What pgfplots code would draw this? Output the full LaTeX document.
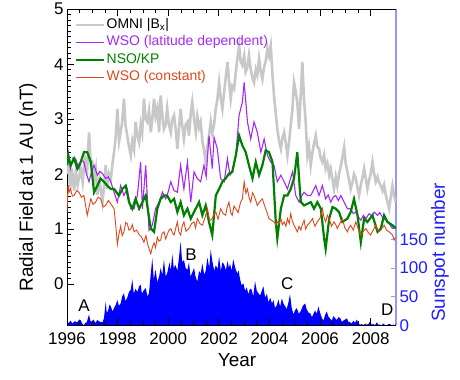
\documentclass[border=0pt]{standalone}
\usepackage{fontspec}
\setmainfont{Liberation Sans}
\usepackage{pgfplots}
\pgfplotsset{compat=1.18}
\definecolor{omni}{RGB}{200,200,200}
\definecolor{wsol}{RGB}{165,40,245}
\definecolor{nso}{RGB}{0,128,0}
\definecolor{wsoc}{RGB}{225,70,25}
\definecolor{ssn}{RGB}{0,0,255}
\definecolor{raxis}{RGB}{150,150,255}
\definecolor{rlab}{RGB}{30,30,255}
\begin{document}
\begin{tikzpicture}
\path (-67bp,-54bp) rectangle (393bp,323bp);
% sunspot axis (right)
\begin{axis}[
 at={(0,0)}, anchor=south west,
 scale only axis, width=329bp, height=316bp,
 xmin=1996, xmax=2009, ymin=0, ymax=552,
 axis x line=none, axis y line*=right,
 y axis line style={raxis, line width=1.2bp, -},
 ytick={0,50,100,150}, minor tick num=0,
 tick align=inside, major tick length=5bp,
 every tick/.style={raxis, line width=0.8bp},
 /pgf/number format/assume math mode=true,
 yticklabel style={text=rlab, font=\fontsize{17}{17}\selectfont},
]
\addplot[fill=ssn, draw=none] table {
1996.00 6
1996.07 4
1996.14 8
1996.22 3
1996.30 7
1996.41 5
1996.48 10
1996.54 9
1996.60 3
1996.67 0
1996.72 4
1996.78 5
1996.87 19
1996.92 8
1996.96 6
1997.05 10
1997.12 4
1997.20 9
1997.30 6
1997.40 5
1997.46 12
1997.53 41
1997.57 22
1997.62 25
1997.68 36
1997.73 33
1997.80 24
1997.86 30
1997.93 36
1997.99 44
1998.05 34
1998.12 38
1998.18 50
1998.25 56
1998.31 42
1998.38 48
1998.45 58
1998.52 62
1998.58 80
1998.64 55
1998.71 64
1998.78 58
1998.85 68
1998.91 71
1998.96 55
1999.02 60
1999.11 65
1999.18 50
1999.24 56
1999.31 90
1999.37 117
1999.43 80
1999.50 97
1999.57 75
1999.64 85
1999.70 100
1999.77 88
1999.83 115
1999.90 85
1999.96 91
2000.05 110
2000.10 95
2000.16 124
2000.22 100
2000.29 105
2000.36 95
2000.43 120
2000.49 146
2000.55 110
2000.62 114
2000.69 100
2000.76 97
2000.82 110
2000.88 85
2000.95 92
2001.02 100
2001.08 85
2001.15 76
2001.22 95
2001.28 90
2001.35 108
2001.42 88
2001.48 95
2001.55 118
2001.62 100
2001.68 132
2001.75 110
2001.82 95
2001.88 105
2001.95 98
2002.01 120
2002.08 95
2002.14 110
2002.21 106
2002.28 96
2002.34 112
2002.40 100
2002.44 108
2002.50 95
2002.57 115
2002.65 100
2002.73 90
2002.78 96
2002.84 80
2002.90 70
2002.97 73
2003.04 60
2003.10 66
2003.17 54
2003.23 64
2003.30 62
2003.36 50
2003.43 77
2003.50 60
2003.56 56
2003.63 52
2003.70 60
2003.76 68
2003.83 48
2003.90 55
2003.96 40
2004.03 48
2004.10 38
2004.16 44
2004.22 30
2004.29 35
2004.36 45
2004.42 32
2004.49 47
2004.55 38
2004.62 33
2004.68 28
2004.75 40
2004.81 54
2004.88 30
2004.95 19
2005.01 26
2005.08 30
2005.16 20
2005.24 25
2005.32 34
2005.41 38
2005.47 28
2005.54 22
2005.61 21
2005.68 14
2005.74 20
2005.80 26
2005.87 20
2005.93 33
2006.00 22
2006.07 13
2006.13 8
2006.20 18
2006.26 24
2006.33 15
2006.39 12
2006.46 8
2006.53 16
2006.60 12
2006.66 9
2006.72 14
2006.79 13
2006.86 6
2006.92 8
2006.99 10
2007.06 12
2007.12 6
2007.19 5
2007.25 3
2007.32 8
2007.38 4
2007.45 10
2007.52 3
2007.58 1
2007.65 2
2007.72 0
2007.78 3
2007.84 1
2007.91 2
2007.98 7
2008.04 1
2008.11 2
2008.17 0
2008.24 5
2008.30 1
2008.37 1
2008.43 0
2008.50 3
2008.57 0
2008.64 0
2008.70 2
2008.77 2
2008.83 0
2008.90 1
2008.96 0
2009.00 2
} \closedcycle;
\end{axis}
% main axis
\begin{axis}[
 at={(0,0)}, anchor=south west,
 scale only axis, width=329bp, height=316bp,
 xmin=1996, xmax=2009, ymin=-0.75, ymax=5,
 axis x line=box, axis y line=left,
 x axis line style={line width=0.8bp, -},
 y axis line style={line width=0.8bp, -},
 xtick={1996,1998,...,2008}, minor x tick num=3,
 ytick={0,1,2,3,4,5}, minor y tick num=9,
 xtick pos=both, ytick pos=left,
 tick align=inside,
 major tick length=7bp, minor tick length=4bp,
 every tick/.style={black, line width=0.7bp},
 /pgf/number format/assume math mode=true,
 /pgf/number format/set thousands separator={},
 tick label style={font=\fontsize{17}{17}\selectfont},
 xticklabel style={yshift=-4bp},
 legend style={at={(rel axis cs:0.024,0.975)}, anchor=north west, draw=none, fill=none,
   font=\fontsize{14}{14}\selectfont, row sep=2.5bp, inner sep=0pt,
   nodes={inner sep=1bp, text height=10bp, text depth=3bp}},
 legend cell align=left,
 legend image code/.code={\draw[#1] (0bp,0bp) -- (28bp,0bp);},
]
\addplot[omni, line width=2.6bp] table {
1996.00 2.00
1996.06 2.30
1996.12 1.70
1996.19 2.10
1996.28 1.70
1996.35 2.05
1996.42 1.80
1996.54 2.10
1996.62 1.85
1996.70 2.30
1996.80 2.10
1996.87 2.76
1996.94 2.20
1997.00 2.22
1997.07 1.90
1997.14 2.10
1997.20 1.62
1997.28 1.90
1997.34 1.70
1997.40 1.49
1997.47 1.80
1997.53 2.16
1997.59 1.73
1997.66 2.00
1997.73 1.90
1997.80 2.20
1997.86 2.40
1997.93 2.70
1997.99 3.19
1998.06 2.60
1998.12 2.76
1998.18 2.95
1998.25 3.37
1998.31 2.90
1998.38 2.70
1998.45 2.50
1998.52 2.34
1998.58 2.60
1998.65 2.45
1998.71 2.95
1998.78 2.70
1998.85 2.58
1998.91 2.90
1998.97 2.75
1999.04 3.37
1999.11 3.00
1999.17 2.95
1999.24 3.15
1999.31 2.76
1999.37 3.00
1999.44 3.37
1999.50 3.05
1999.57 3.20
1999.64 2.76
1999.70 3.43
1999.77 3.05
1999.83 2.82
1999.90 2.90
1999.96 3.19
2000.03 2.90
2000.10 2.76
2000.16 3.00
2000.23 3.07
2000.30 2.80
2000.36 2.46
2000.42 2.80
2000.49 3.19
2000.55 2.90
2000.62 2.64
2000.69 2.90
2000.76 2.95
2000.82 2.70
2000.89 3.10
2000.95 3.31
2001.02 3.00
2001.09 2.76
2001.15 3.05
2001.22 2.85
2001.28 2.95
2001.35 2.60
2001.41 2.45
2001.48 2.22
2001.55 2.50
2001.61 2.70
2001.68 2.95
2001.74 2.75
2001.81 2.89
2001.88 3.20
2001.94 3.35
2002.01 3.67
2002.07 3.40
2002.14 3.19
2002.21 3.50
2002.27 3.75
2002.34 4.04
2002.40 3.70
2002.47 3.37
2002.53 3.60
2002.60 3.55
2002.67 3.85
2002.73 4.10
2002.80 4.34
2002.86 4.05
2002.93 3.98
2003.00 4.15
2003.06 3.86
2003.13 3.95
2003.19 4.16
2003.26 3.90
2003.33 3.75
2003.39 3.67
2003.46 3.90
2003.52 3.80
2003.59 4.10
2003.66 3.85
2003.72 3.73
2003.79 3.95
2003.85 4.05
2003.92 4.28
2003.98 4.15
2004.05 4.34
2004.12 3.80
2004.18 3.43
2004.25 3.10
2004.31 2.82
2004.38 2.60
2004.45 2.46
2004.51 2.65
2004.58 2.76
2004.65 2.55
2004.71 2.34
2004.78 2.60
2004.84 2.89
2004.91 3.20
2004.97 3.67
2005.04 3.50
2005.10 3.31
2005.17 2.82
2005.23 3.40
2005.30 4.04
2005.36 3.40
2005.43 2.95
2005.50 2.34
2005.56 2.50
2005.63 2.16
2005.70 2.40
2005.76 2.55
2005.83 2.70
2005.89 2.50
2005.96 2.46
2006.02 2.30
2006.09 2.22
2006.16 2.35
2006.22 2.10
2006.29 2.20
2006.36 1.98
2006.42 2.10
2006.49 1.90
2006.55 1.73
2006.62 1.95
2006.68 1.79
2006.75 2.00
2006.82 2.15
2006.88 2.30
2006.95 2.49
2007.01 2.20
2007.08 2.04
2007.14 1.90
2007.21 1.73
2007.28 1.85
2007.34 2.00
2007.41 1.92
2007.48 1.75
2007.54 1.61
2007.61 1.80
2007.68 1.95
2007.74 2.10
2007.81 1.90
2007.87 1.73
2007.94 1.90
2008.00 2.00
2008.07 2.22
2008.14 2.00
2008.20 1.86
2008.27 1.95
2008.33 1.85
2008.40 1.79
2008.47 1.70
2008.53 1.80
2008.60 1.61
2008.66 1.50
2008.73 1.37
2008.80 1.60
2008.86 1.79
2008.93 1.60
2008.99 1.49
};
\addlegendentry{OMNI |B\textsubscript{x}|}
\addplot[wsol, line width=1.1bp] table {
1996.00 2.22
1996.05 2.40
1996.14 2.10
1996.24 2.30
1996.34 2.28
1996.47 2.10
1996.57 2.25
1996.67 2.22
1996.77 2.00
1996.87 1.86
1996.97 2.05
1997.07 2.16
1997.20 1.98
1997.30 2.05
1997.40 2.01
1997.53 1.92
1997.63 1.95
1997.73 1.86
1997.86 1.67
1997.99 1.49
1998.12 1.79
1998.25 1.61
1998.38 1.73
1998.52 1.37
1998.65 1.37
1998.78 1.61
1998.91 2.22
1998.98 1.37
1999.11 2.16
1999.24 0.98
1999.37 1.07
1999.50 1.37
1999.64 1.49
1999.77 1.67
1999.90 1.55
1999.96 1.61
2000.10 1.86
2000.23 1.70
2000.36 1.67
2000.49 2.16
2000.62 1.73
2000.76 2.22
2000.89 1.49
2001.02 2.04
2001.15 1.92
2001.28 1.86
2001.41 2.16
2001.50 1.95
2001.61 2.70
2001.74 2.10
2001.81 2.67
2001.94 2.46
2002.07 1.92
2002.21 1.86
2002.34 2.28
2002.44 1.98
2002.53 2.04
2002.67 2.34
2002.80 3.07
2002.93 3.31
2003.00 3.67
2003.13 2.95
2003.26 2.64
2003.39 2.95
2003.52 2.76
2003.66 2.40
2003.79 2.64
2003.92 2.34
2004.05 2.22
2004.18 2.16
2004.31 1.86
2004.45 1.98
2004.58 1.86
2004.71 1.73
2004.91 2.04
2005.04 1.61
2005.17 1.49
2005.27 1.60
2005.37 1.67
2005.50 1.61
2005.63 1.61
2005.73 1.70
2005.83 1.79
2005.96 1.61
2006.09 1.79
2006.22 1.55
2006.32 1.62
2006.42 1.49
2006.52 1.58
2006.62 1.61
2006.72 1.52
2006.82 1.61
2006.95 1.49
2007.08 1.37
2007.21 1.37
2007.31 1.28
2007.41 1.31
2007.51 1.22
2007.61 1.16
2007.71 1.25
2007.81 1.19
2007.94 1.28
2008.04 1.24
2008.14 1.31
2008.27 1.25
2008.36 1.30
2008.46 1.22
2008.56 1.18
2008.66 1.13
2008.76 1.08
2008.86 1.01
2008.99 1.04
};
\addlegendentry{\textcolor{wsol}{WSO (latitude dependent)}}
\addplot[nso, line width=2.2bp] table {
1996.00 2.16
1996.05 2.34
1996.14 2.16
1996.28 2.28
1996.41 2.10
1996.54 2.22
1996.67 2.40
1996.80 2.40
1996.94 2.22
1997.07 1.67
1997.20 1.79
1997.33 1.92
1997.46 1.86
1997.59 1.79
1997.73 1.73
1997.86 1.73
1998.05 1.61
1998.19 1.73
1998.32 1.79
1998.45 1.49
1998.58 1.37
1998.71 1.55
1998.85 1.37
1998.98 1.49
1999.11 1.61
1999.31 1.01
1999.44 0.95
1999.57 1.37
1999.70 1.55
1999.83 1.61
1999.96 1.61
2000.10 1.49
2000.23 1.55
2000.36 1.31
2000.49 1.49
2000.62 1.25
2000.76 1.37
2000.89 1.19
2001.02 1.31
2001.22 1.49
2001.35 1.25
2001.48 1.43
2001.61 1.13
2001.74 0.89
2001.88 1.61
2002.01 1.73
2002.14 1.86
2002.27 1.92
2002.40 2.01
2002.53 2.04
2002.67 2.34
2002.80 2.70
2002.93 2.52
2003.06 2.40
2003.19 2.16
2003.33 1.92
2003.46 2.22
2003.59 1.98
2003.72 2.16
2003.85 2.43
2003.98 2.40
2004.12 2.22
2004.25 1.13
2004.31 0.83
2004.45 1.37
2004.58 1.61
2004.71 1.61
2004.84 1.73
2004.97 1.92
2005.10 2.40
2005.17 1.92
2005.24 1.49
2005.37 1.43
2005.50 1.46
2005.63 1.49
2005.76 1.37
2005.89 1.49
2006.03 1.37
2006.16 0.83
2006.22 0.64
2006.36 1.19
2006.49 1.40
2006.62 1.37
2006.75 1.31
2006.88 1.13
2007.08 1.19
2007.21 1.31
2007.34 1.55
2007.48 1.25
2007.61 0.76
2007.74 1.19
2007.87 1.13
2008.07 1.25
2008.27 0.95
2008.40 1.01
2008.53 1.25
2008.66 1.13
2008.86 1.07
2008.99 1.01
};
\addlegendentry{\textcolor{nso}{NSO/KP}}
\addplot[wsoc, line width=0.9bp] table {
1996.00 1.30
1996.04 1.79
1996.08 1.67
1996.14 1.73
1996.21 1.60
1996.28 1.61
1996.38 1.70
1996.47 1.67
1996.57 1.58
1996.67 1.61
1996.80 1.25
1996.94 1.55
1997.03 1.45
1997.13 1.49
1997.23 1.58
1997.33 1.55
1997.43 1.40
1997.53 1.43
1997.63 1.52
1997.73 1.46
1997.86 1.37
1997.92 1.10
1997.99 0.72
1998.05 0.90
1998.12 1.05
1998.18 0.88
1998.25 0.95
1998.32 1.12
1998.38 1.10
1998.45 0.98
1998.52 1.00
1998.58 1.08
1998.65 0.95
1998.75 0.98
1998.85 0.90
1998.95 0.85
1999.04 0.76
1999.12 0.88
1999.20 0.70
1999.31 0.55
1999.38 0.68
1999.44 0.75
1999.50 0.66
1999.57 0.85
1999.63 0.78
1999.70 0.80
1999.76 0.92
1999.83 0.95
1999.90 0.82
1999.96 0.90
2000.03 0.98
2000.10 1.01
2000.16 0.94
2000.23 0.89
2000.30 1.02
2000.36 1.13
2000.42 0.95
2000.49 0.89
2000.55 1.05
2000.62 1.13
2000.70 0.96
2000.82 1.01
2000.92 1.10
2001.02 1.13
2001.08 1.02
2001.15 1.19
2001.25 1.10
2001.35 1.07
2001.45 1.20
2001.55 1.37
2001.64 1.15
2001.74 1.19
2001.81 1.28
2001.88 1.31
2001.97 1.18
2002.07 1.37
2002.17 1.28
2002.27 1.25
2002.33 1.40
2002.40 1.49
2002.47 1.30
2002.53 1.25
2002.60 1.42
2002.67 1.37
2002.76 1.30
2002.86 1.49
2002.93 1.55
2003.00 1.86
2003.07 1.65
2003.13 1.73
2003.19 1.58
2003.26 1.49
2003.33 1.66
2003.39 1.61
2003.46 1.52
2003.52 1.43
2003.62 1.50
2003.72 1.55
2003.79 1.45
2003.85 1.37
2003.92 1.28
2003.98 1.19
2004.08 1.16
2004.18 1.13
2004.25 1.08
2004.31 1.13
2004.38 1.10
2004.45 1.19
2004.51 1.08
2004.58 1.13
2004.65 1.05
2004.71 1.19
2004.78 1.10
2004.84 1.28
2004.90 1.15
2004.97 1.07
2005.03 1.02
2005.10 0.95
2005.17 1.05
2005.24 0.98
2005.30 1.08
2005.37 1.16
2005.43 1.00
2005.50 1.07
2005.60 1.12
2005.70 1.19
2005.80 1.05
2005.89 1.13
2006.00 1.20
2006.09 1.37
2006.16 1.20
2006.22 1.13
2006.29 1.25
2006.36 1.19
2006.45 1.05
2006.55 1.13
2006.62 1.08
2006.68 1.01
2006.78 1.10
2006.88 1.19
2006.98 1.02
2007.08 0.95
2007.14 1.02
2007.21 1.07
2007.31 0.98
2007.41 1.13
2007.51 1.00
2007.61 0.89
2007.71 0.96
2007.81 1.01
2007.90 0.94
2007.99 0.89
2008.10 0.98
2008.20 1.07
2008.27 0.99
2008.33 0.95
2008.43 1.00
2008.53 1.07
2008.63 0.98
2008.73 0.95
2008.80 0.92
2008.86 0.89
2008.93 0.80
2008.99 0.85
};
\addlegendentry{\textcolor{wsoc}{WSO (constant)}}
\node[font=\fontsize{17}{17}\selectfont] at (axis cs:1996.67,-0.40) {A};
\node[font=\fontsize{17}{17}\selectfont] at (axis cs:2000.90,0.53) {B};
\node[font=\fontsize{17}{17}\selectfont] at (axis cs:2004.70,0.00) {C};
\node[font=\fontsize{17}{17}\selectfont] at (axis cs:2008.65,-0.47) {D};
\end{axis}
\node[rotate=90, font=\fontsize{19}{19}\selectfont] at (-39bp,138bp) {Radial Field at 1 AU (nT)};
\node[font=\fontsize{19}{19}\selectfont] at (170bp,-35bp) {Year};
\node[rotate=90, text=rlab, font=\fontsize{19}{19}\selectfont] at (373bp,73bp) {Sunspot number};
\end{tikzpicture}
\end{document}
